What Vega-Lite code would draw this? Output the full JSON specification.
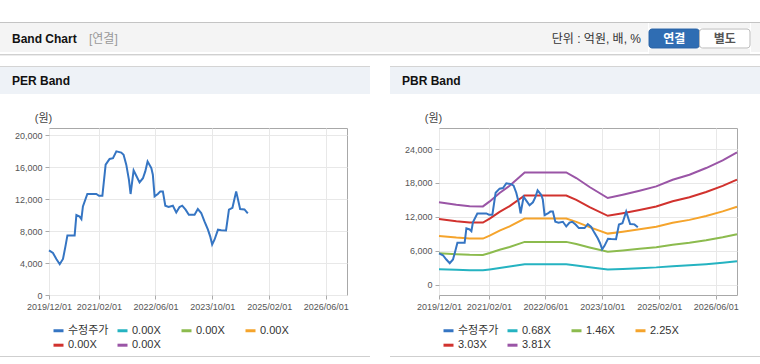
{
  "$schema": "https://vega.github.io/schema/vega-lite/v6.json",
  "background": "white",
  "padding": 0,
  "spacing": 0,
  "resolve": {"scale": {"color": "independent"}, "legend": {"color": "independent"}},
  "config": {
    "font": "Liberation Sans, Noto Sans CJK KR",
    "view": {"stroke": null},
    "concat": {"spacing": 0},
    "axis": {"labelFont": "Liberation Sans, Noto Sans CJK KR", "labelFontSize": 9, "labelColor": "#555555", "tickColor": "#aaaaaa", "tickSize": 4, "labelPadding": 3, "gridColor": "#e8e8e8", "domain": false, "labelFlush": false},
    "legend": {"orient": "bottom", "direction": "horizontal", "columns": 4, "symbolType": "stroke", "symbolSize": 100, "symbolStrokeWidth": 3, "labelFont": "Liberation Sans, Noto Sans CJK KR", "labelFontSize": 11, "labelColor": "#333333", "labelOffset": 3, "columnPadding": 2, "rowPadding": 1.7, "gridAlign": "all", "offset": 10, "padding": 3},
    "title": {"anchor": "start", "font": "Liberation Sans, Noto Sans CJK KR", "fontSize": 12, "fontWeight": "bold", "color": "#111111", "baseline": "alphabetic", "offset": -20}
  },
  "datasets": {
    "price": [
      {"d": "2019-12-01", "v": 5575}, {"d": "2020-01-04", "v": 5250}, {"d": "2020-02-02", "v": 4500}, {"d": "2020-03-02", "v": 3850},
      {"d": "2020-03-30", "v": 4500}, {"d": "2020-04-20", "v": 6075}, {"d": "2020-05-07", "v": 7450}, {"d": "2020-07-08", "v": 7450},
      {"d": "2020-07-23", "v": 10000}, {"d": "2020-08-20", "v": 9800}, {"d": "2020-09-04", "v": 9500}, {"d": "2020-09-17", "v": 11075},
      {"d": "2020-10-25", "v": 12625}, {"d": "2021-01-10", "v": 12625}, {"d": "2021-02-02", "v": 12400}, {"d": "2021-03-03", "v": 12400},
      {"d": "2021-03-31", "v": 16290}, {"d": "2021-05-04", "v": 17000}, {"d": "2021-06-02", "v": 17100}, {"d": "2021-07-01", "v": 17950},
      {"d": "2021-08-12", "v": 17800}, {"d": "2021-09-01", "v": 17540}, {"d": "2021-09-24", "v": 16290}, {"d": "2021-10-17", "v": 14400},
      {"d": "2021-10-31", "v": 12625}, {"d": "2021-11-26", "v": 15580}, {"d": "2021-12-19", "v": 14900}, {"d": "2022-01-16", "v": 14075},
      {"d": "2022-02-14", "v": 14600}, {"d": "2022-03-06", "v": 15450}, {"d": "2022-03-26", "v": 16700}, {"d": "2022-04-27", "v": 15875},
      {"d": "2022-05-10", "v": 15040}, {"d": "2022-05-25", "v": 12325}, {"d": "2022-06-22", "v": 12625}, {"d": "2022-07-13", "v": 12950},
      {"d": "2022-08-04", "v": 12950}, {"d": "2022-08-25", "v": 11160}, {"d": "2022-09-22", "v": 11000}, {"d": "2022-10-29", "v": 11160},
      {"d": "2022-11-27", "v": 10325}, {"d": "2022-12-25", "v": 11000}, {"d": "2023-01-17", "v": 11160}, {"d": "2023-02-15", "v": 10660},
      {"d": "2023-03-15", "v": 10040}, {"d": "2023-05-03", "v": 10040}, {"d": "2023-05-31", "v": 10750}, {"d": "2023-06-29", "v": 10250},
      {"d": "2023-07-27", "v": 9200}, {"d": "2023-08-25", "v": 8200}, {"d": "2023-09-14", "v": 7330}, {"d": "2023-10-01", "v": 6300},
      {"d": "2023-10-21", "v": 6910}, {"d": "2023-11-20", "v": 8160}, {"d": "2023-12-18", "v": 8100}, {"d": "2024-01-28", "v": 8075},
      {"d": "2024-02-22", "v": 10660}, {"d": "2024-03-23", "v": 10900}, {"d": "2024-04-24", "v": 12950}, {"d": "2024-05-28", "v": 10750},
      {"d": "2024-07-04", "v": 10700}, {"d": "2024-08-02", "v": 10200}
    ],
    "bands": [
      {"d": "2019-12-01", "s": "0.68X", "v": 2800}, {"d": "2019-12-01", "s": "1.46X", "v": 5610}, {"d": "2019-12-01", "s": "2.25X", "v": 8650}, {"d": "2019-12-01", "s": "3.03X", "v": 11640}, {"d": "2019-12-01", "s": "3.81X", "v": 14600},
      {"d": "2020-04-28", "s": "0.68X", "v": 2700}, {"d": "2020-04-28", "s": "1.46X", "v": 5430}, {"d": "2020-04-28", "s": "2.25X", "v": 8370}, {"d": "2020-04-28", "s": "3.03X", "v": 11270}, {"d": "2020-04-28", "s": "3.81X", "v": 14170},
      {"d": "2020-08-20", "s": "0.68X", "v": 2610}, {"d": "2020-08-20", "s": "1.46X", "v": 5330}, {"d": "2020-08-20", "s": "2.25X", "v": 8210}, {"d": "2020-08-20", "s": "3.03X", "v": 11050}, {"d": "2020-08-20", "s": "3.81X", "v": 13900},
      {"d": "2020-12-12", "s": "0.68X", "v": 2590}, {"d": "2020-12-12", "s": "1.46X", "v": 5310}, {"d": "2020-12-12", "s": "2.25X", "v": 8190}, {"d": "2020-12-12", "s": "3.03X", "v": 11030}, {"d": "2020-12-12", "s": "3.81X", "v": 13870},
      {"d": "2021-02-08", "s": "0.68X", "v": 2750}, {"d": "2021-02-08", "s": "1.46X", "v": 5650}, {"d": "2021-02-08", "s": "2.25X", "v": 8710}, {"d": "2021-02-08", "s": "3.03X", "v": 11730}, {"d": "2021-02-08", "s": "3.81X", "v": 14750},
      {"d": "2021-05-04", "s": "0.68X", "v": 3010}, {"d": "2021-05-04", "s": "1.46X", "v": 6220}, {"d": "2021-05-04", "s": "2.25X", "v": 9590}, {"d": "2021-05-04", "s": "3.03X", "v": 12910}, {"d": "2021-05-04", "s": "3.81X", "v": 16235},
      {"d": "2021-07-29", "s": "0.68X", "v": 3250}, {"d": "2021-07-29", "s": "1.46X", "v": 6710}, {"d": "2021-07-29", "s": "2.25X", "v": 10350}, {"d": "2021-07-29", "s": "3.03X", "v": 13930}, {"d": "2021-07-29", "s": "3.81X", "v": 17520},
      {"d": "2021-12-05", "s": "0.68X", "v": 3650}, {"d": "2021-12-05", "s": "1.46X", "v": 7610}, {"d": "2021-12-05", "s": "2.25X", "v": 11730}, {"d": "2021-12-05", "s": "3.03X", "v": 15800}, {"d": "2021-12-05", "s": "3.81X", "v": 19870},
      {"d": "2022-11-27", "s": "0.68X", "v": 3650}, {"d": "2022-11-27", "s": "1.46X", "v": 7610}, {"d": "2022-11-27", "s": "2.25X", "v": 11730}, {"d": "2022-11-27", "s": "3.03X", "v": 15800}, {"d": "2022-11-27", "s": "3.81X", "v": 19870},
      {"d": "2023-02-21", "s": "0.68X", "v": 3450}, {"d": "2023-02-21", "s": "1.46X", "v": 7230}, {"d": "2023-02-21", "s": "2.25X", "v": 11150}, {"d": "2023-02-21", "s": "3.03X", "v": 15010}, {"d": "2023-02-21", "s": "3.81X", "v": 18880},
      {"d": "2023-06-15", "s": "0.68X", "v": 3150}, {"d": "2023-06-15", "s": "1.46X", "v": 6630}, {"d": "2023-06-15", "s": "2.25X", "v": 10210}, {"d": "2023-06-15", "s": "3.03X", "v": 13750}, {"d": "2023-06-15", "s": "3.81X", "v": 17290},
      {"d": "2023-11-18", "s": "0.68X", "v": 2740}, {"d": "2023-11-18", "s": "1.46X", "v": 5880}, {"d": "2023-11-18", "s": "2.25X", "v": 9070}, {"d": "2023-11-18", "s": "3.03X", "v": 12210}, {"d": "2023-11-18", "s": "3.81X", "v": 15350},
      {"d": "2024-03-26", "s": "0.68X", "v": 2840}, {"d": "2024-03-26", "s": "1.46X", "v": 6100}, {"d": "2024-03-26", "s": "2.25X", "v": 9410}, {"d": "2024-03-26", "s": "3.03X", "v": 12670}, {"d": "2024-03-26", "s": "3.81X", "v": 15930},
      {"d": "2024-08-17", "s": "0.68X", "v": 2970}, {"d": "2024-08-17", "s": "1.46X", "v": 6380}, {"d": "2024-08-17", "s": "2.25X", "v": 9830}, {"d": "2024-08-17", "s": "3.03X", "v": 13230}, {"d": "2024-08-17", "s": "3.81X", "v": 16640},
      {"d": "2025-01-07", "s": "0.68X", "v": 3110}, {"d": "2025-01-07", "s": "1.46X", "v": 6670}, {"d": "2025-01-07", "s": "2.25X", "v": 10280}, {"d": "2025-01-07", "s": "3.03X", "v": 13840}, {"d": "2025-01-07", "s": "3.81X", "v": 17400},
      {"d": "2025-05-28", "s": "0.68X", "v": 3320}, {"d": "2025-05-28", "s": "1.46X", "v": 7120}, {"d": "2025-05-28", "s": "2.25X", "v": 10970}, {"d": "2025-05-28", "s": "3.03X", "v": 14780}, {"d": "2025-05-28", "s": "3.81X", "v": 18580},
      {"d": "2025-10-19", "s": "0.68X", "v": 3470}, {"d": "2025-10-19", "s": "1.46X", "v": 7460}, {"d": "2025-10-19", "s": "2.25X", "v": 11490}, {"d": "2025-10-19", "s": "3.03X", "v": 15480}, {"d": "2025-10-19", "s": "3.81X", "v": 19460},
      {"d": "2026-03-11", "s": "0.68X", "v": 3680}, {"d": "2026-03-11", "s": "1.46X", "v": 7910}, {"d": "2026-03-11", "s": "2.25X", "v": 12190}, {"d": "2026-03-11", "s": "3.03X", "v": 16410}, {"d": "2026-03-11", "s": "3.81X", "v": 20640},
      {"d": "2026-07-31", "s": "0.68X", "v": 3920}, {"d": "2026-07-31", "s": "1.46X", "v": 8430}, {"d": "2026-07-31", "s": "2.25X", "v": 12990}, {"d": "2026-07-31", "s": "3.03X", "v": 17490}, {"d": "2026-07-31", "s": "3.81X", "v": 21990},
      {"d": "2026-12-01", "s": "0.68X", "v": 4180}, {"d": "2026-12-01", "s": "1.46X", "v": 8970}, {"d": "2026-12-01", "s": "2.25X", "v": 13820}, {"d": "2026-12-01", "s": "3.03X", "v": 18610}, {"d": "2026-12-01", "s": "3.81X", "v": 23400}
    ]
  },
  "vconcat": [
    {"width": 760, "height": 22, "data": {"values": []}, "mark": "rect"},
    {"width": 760, "height": 1, "data": {"values": []}, "mark": "rect", "view": {"fill": "#c4c4c4"}},
    {
      "spacing": 0,
      "hconcat": [
        {"width": 88, "height": 29, "data": {"values": []}, "mark": "rect", "view": {"fill": "#f4f4f4"},
         "title": {"text": "Band Chart", "dx": 12, "dy": 3}},
        {"width": 400, "height": 29, "data": {"values": []}, "mark": "rect", "view": {"fill": "#f4f4f4"},
         "title": {"text": "[연결]", "dx": 1, "dy": 3, "fontWeight": "normal", "color": "#999999"}},
        {"width": 153, "height": 29, "data": {"values": []}, "mark": "rect", "view": {"fill": "#f4f4f4"},
         "title": {"text": "단위 : 억원, 배, %", "anchor": "end", "dy": 3, "fontWeight": "normal", "color": "#333333"}},
        {"width": 7, "height": 29, "data": {"values": []}, "mark": "rect", "view": {"fill": "#f4f4f4"}},
        {
          "spacing": 0,
          "vconcat": [
            {"width": 101, "height": 5, "data": {"values": []}, "mark": "rect", "view": {"fill": "#f4f4f4"}},
            {"width": 101, "height": 19, "view": {"fill": "#f4f4f4"},
             "data": {"values": [{"label": "연결"}, {"label": "별도"}]},
             "encoding": {"x": {"field": "label", "type": "nominal", "sort": null, "scale": {"paddingInner": 0, "paddingOuter": 0}, "axis": null}},
             "layer": [
               {"mark": {"type": "rect", "cornerRadius": 3},
                "encoding": {"fill": {"condition": {"test": "datum.label === '연결'", "value": "#2f6db3"}, "value": "#ffffff"},
                             "stroke": {"condition": {"test": "datum.label === '연결'", "value": "#2a62a3"}, "value": "#b8b8b8"}}},
               {"mark": {"type": "text", "fontSize": 12, "fontWeight": "bold"},
                "encoding": {"text": {"field": "label"}, "color": {"condition": {"test": "datum.label === '연결'", "value": "#ffffff"}, "value": "#555555"}}}
             ]},
            {"width": 101, "height": 5, "data": {"values": []}, "mark": "rect", "view": {"fill": "#f4f4f4"}}
          ]
        },
        {"width": 11, "height": 29, "data": {"values": []}, "mark": "rect", "view": {"fill": "#f4f4f4"}}
      ]
    },
    {"width": 760, "height": 1, "data": {"values": []}, "mark": "rect", "view": {"fill": "#d0d0d0"}},
    {"width": 760, "height": 1, "data": {"values": []}, "mark": "rect", "view": {"fill": "#ececec"}},
    {"width": 760, "height": 10, "data": {"values": []}, "mark": "rect"},
    {
      "spacing": 0,
      "resolve": {"scale": {"color": "independent"}, "legend": {"color": "independent"}},
      "hconcat": [
        {
          "spacing": 0,
          "resolve": {"scale": {"color": "independent"}, "legend": {"color": "independent"}},
          "vconcat": [
            {"width": 370, "height": 1, "data": {"values": []}, "mark": "rect", "view": {"fill": "#d4d4d4"}},
            {"width": 370, "height": 27, "data": {"values": []}, "mark": "rect", "view": {"fill": "#eef2f7"},
             "title": {"text": "PER Band", "dx": 12, "dy": 1}},
            {"width": 370, "height": 17, "data": {"values": []}, "mark": "rect"},
            {
              "bounds": "flush", "spacing": 0,
              "resolve": {"scale": {"color": "independent"}, "legend": {"color": "independent"}},
              "hconcat": [
                {"width": 49, "height": 167, "data": {"values": []}, "mark": "rect"},
                {
                  "width": 298, "height": 167,
                  "view": {"stroke": "#a8a8a8"},
                  "data": {"name": "price"},
                  "mark": {"type": "line", "strokeWidth": 2},
                  "encoding": {
                    "x": {"field": "d", "type": "temporal",
                          "scale": {"type": "utc", "domain": [{"year": 2019, "month": 12, "date": 1, "utc": true}, {"year": 2026, "month": 12, "date": 1, "utc": true}]},
                          "axis": {"title": null, "grid": true, "format": "%Y/%m/%d", "labelOverlap": false,
                                   "values": [{"year": 2019, "month": 12, "date": 1, "utc": true}, {"year": 2021, "month": 2, "date": 1, "utc": true}, {"year": 2022, "month": 6, "date": 1, "utc": true}, {"year": 2023, "month": 10, "date": 1, "utc": true}, {"year": 2025, "month": 2, "date": 1, "utc": true}, {"year": 2026, "month": 6, "date": 1, "utc": true}]}},
                    "y": {"field": "v", "type": "quantitative",
                          "scale": {"domain": [0, 20875], "nice": false, "zero": false},
                          "axis": {"values": [0, 4000, 8000, 12000, 16000, 20000], "format": ",.0f", "grid": true,
                                   "title": "(원)", "titleAngle": 0, "titleX": -6, "titleY": -10, "titleAlign": "center", "titleBaseline": "middle",
                                   "titleFontSize": 11, "titleFontWeight": "normal", "titleColor": "#444444"}},
                    "color": {"datum": "수정주가", "type": "nominal",
                              "scale": {"domain": ["수정주가", "b1", "b2", "b3", "b4", "b5"], "range": ["#3575c3", "#25b3c1", "#8cbb4e", "#f5a42c", "#d1322e", "#9a55a6"]},
                              "legend": {"title": null, "labelExpr": "datum.label == '수정주가' ? '수정주가' : '0.00X'"}}
                  }
                }
              ]
            },
            {"width": 370, "height": 1, "data": {"values": []}, "mark": "rect", "view": {"fill": "#cfcfcf"}}
          ]
        },
        {"width": 20, "height": 1, "data": {"values": []}, "mark": "rect"},
        {
          "spacing": 0,
          "resolve": {"scale": {"color": "independent"}, "legend": {"color": "independent"}},
          "vconcat": [
            {"width": 370, "height": 1, "data": {"values": []}, "mark": "rect", "view": {"fill": "#d4d4d4"}},
            {"width": 370, "height": 27, "data": {"values": []}, "mark": "rect", "view": {"fill": "#eef2f7"},
             "title": {"text": "PBR Band", "dx": 12, "dy": 1}},
            {"width": 370, "height": 17, "data": {"values": []}, "mark": "rect"},
            {
              "bounds": "flush", "spacing": 0,
              "resolve": {"scale": {"color": "independent"}, "legend": {"color": "independent"}},
              "hconcat": [
                {"width": 49, "height": 167, "data": {"values": []}, "mark": "rect"},
                {
                  "width": 298, "height": 167,
                  "view": {"stroke": "#a8a8a8"},
                  "encoding": {
                    "x": {"field": "d", "type": "temporal",
                          "scale": {"type": "utc", "domain": [{"year": 2019, "month": 12, "date": 1, "utc": true}, {"year": 2026, "month": 12, "date": 1, "utc": true}]},
                          "axis": {"title": null, "grid": true, "format": "%Y/%m/%d", "labelOverlap": false,
                                   "values": [{"year": 2019, "month": 12, "date": 1, "utc": true}, {"year": 2021, "month": 2, "date": 1, "utc": true}, {"year": 2022, "month": 6, "date": 1, "utc": true}, {"year": 2023, "month": 10, "date": 1, "utc": true}, {"year": 2025, "month": 2, "date": 1, "utc": true}, {"year": 2026, "month": 6, "date": 1, "utc": true}]}},
                    "y": {"field": "v", "type": "quantitative",
                          "scale": {"domain": [-1765, 27706], "nice": false, "zero": false},
                          "axis": {"values": [0, 6000, 12000, 18000, 24000], "format": ",.0f", "grid": true,
                                   "title": "(원)", "titleAngle": 0, "titleX": -6, "titleY": -10, "titleAlign": "center", "titleBaseline": "middle",
                                   "titleFontSize": 11, "titleFontWeight": "normal", "titleColor": "#444444"}}
                  },
                  "layer": [
                    {"data": {"name": "bands"}, "mark": {"type": "line", "strokeWidth": 2},
                     "encoding": {"color": {"field": "s", "type": "nominal",
                                            "scale": {"domain": ["수정주가", "0.68X", "1.46X", "2.25X", "3.03X", "3.81X"], "range": ["#3575c3", "#25b3c1", "#8cbb4e", "#f5a42c", "#d1322e", "#9a55a6"]},
                                            "legend": {"title": null}}}},
                    {"data": {"name": "price"}, "mark": {"type": "line", "strokeWidth": 2},
                     "encoding": {"color": {"datum": "수정주가", "type": "nominal",
                                            "scale": {"domain": ["수정주가", "0.68X", "1.46X", "2.25X", "3.03X", "3.81X"], "range": ["#3575c3", "#25b3c1", "#8cbb4e", "#f5a42c", "#d1322e", "#9a55a6"]},
                                            "legend": {"title": null}}}}
                  ]
                }
              ]
            },
            {"width": 370, "height": 1, "data": {"values": []}, "mark": "rect", "view": {"fill": "#cfcfcf"}}
          ]
        }
      ]
    }
  ]
}
